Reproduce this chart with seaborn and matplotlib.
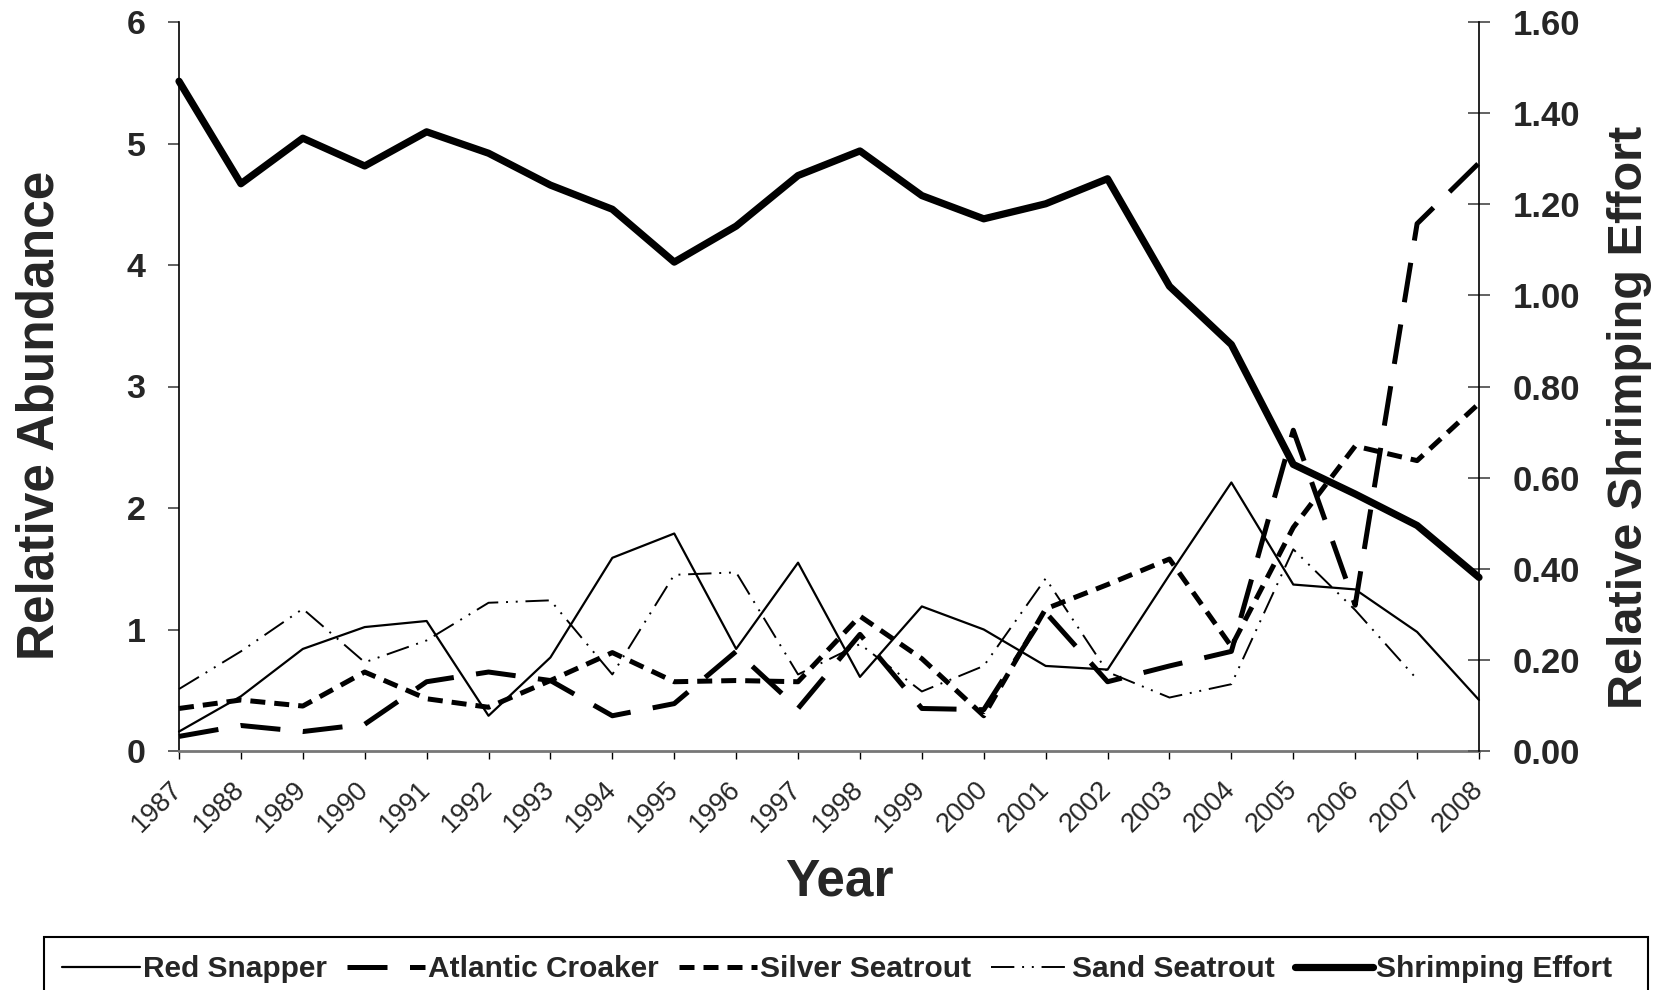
import matplotlib
matplotlib.use("Agg")
import matplotlib.pyplot as plt
import matplotlib.transforms as mtransforms
from matplotlib.patches import Rectangle
import seaborn as sns
import numpy as np

years = list(range(1987, 2009))
red_snapper = [0.16, 0.45, 0.84, 1.02, 1.07, 0.29, 0.77, 1.59, 1.79, 0.84, 1.55,
               0.61, 1.19, 1.00, 0.70, 0.67, 1.45, 2.21, 1.37, 1.33, 0.98, 0.42]
atlantic_croaker = [0.12, 0.21, 0.16, 0.22, 0.57, 0.65, 0.58, 0.29, 0.39, 0.82, 0.35,
                    0.96, 0.35, 0.34, 1.14, 0.57, 0.70, 0.82, 2.64, 1.20, 4.34, 4.84]
silver_seatrout = [0.35, 0.42, 0.37, 0.65, 0.43, 0.36, 0.58, 0.81, 0.57, 0.58, 0.57,
                   1.11, 0.76, 0.29, 1.17, 1.37, 1.58, 0.86, 1.84, 2.51, 2.39, 2.86]
sand_years = list(range(1987, 2008))
sand_seatrout = [0.51, 0.82, 1.17, 0.73, 0.91, 1.22, 1.24, 0.63, 1.45, 1.47, 0.63,
                 0.88, 0.49, 0.70, 1.42, 0.65, 0.44, 0.55, 1.66, 1.16, 0.59]
shrimping_effort = [1.47, 1.245, 1.345, 1.284, 1.359, 1.312, 1.242, 1.189, 1.073, 1.152, 1.263,
                    1.317, 1.219, 1.168, 1.201, 1.256, 1.02, 0.892, 0.629, 0.564, 0.495, 0.381]
left_ticks = [0, 1, 2, 3, 4, 5, 6]
right_ticks = [0.0, 0.2, 0.4, 0.6, 0.8, 1.0, 1.2, 1.4, 1.6]

sns.set_style("white")
plt.rcParams['font.family'] = ['Liberation Sans', 'DejaVu Sans']

fig = plt.figure(figsize=(16.59, 9.90), dpi=100)
W, H = 1659, 990
L, R, T, B = 179, 1479, 22, 751
ax = fig.add_axes([L / W, 1 - B / H, (R - L) / W, (B - T) / H])
ax2 = ax.twinx()

sns.lineplot(x=years, y=red_snapper, ax=ax, color='black', lw=1.6,
             label='Red Snapper', clip_on=False)
sns.lineplot(x=years, y=atlantic_croaker, ax=ax, color='black', lw=3.6,
             linestyle=(0, (8, 4.5)), label='Atlantic Croaker', clip_on=False)
sns.lineplot(x=years, y=silver_seatrout, ax=ax, color='black', lw=3.6,
             linestyle=(0, (3, 1.8)), label='Silver Seatrout', clip_on=False)
sns.lineplot(x=sand_years, y=sand_seatrout, ax=ax, color='black', lw=1.4,
             linestyle=(0, (12, 4, 1, 4, 1, 4)), label='Sand Seatrout', clip_on=False)
sns.lineplot(x=years, y=shrimping_effort, ax=ax2, color='black', lw=5.2,
             label='Shrimping Effort', clip_on=False)

ax.set_xlim(1987, 2008)
ax.set_ylim(0, 6)
ax2.set_ylim(0, 1.6)
ax.set_xticks(years)
ax.set_xticklabels([str(y) for y in years], rotation=45, ha='right',
                   rotation_mode='anchor', va='center', fontsize=19.5)
offset = mtransforms.ScaledTranslation(3 / 100, 0, fig.dpi_scale_trans)
for lab in ax.get_xticklabels():
    lab.set_transform(lab.get_transform() + offset)
ax.set_yticks(left_ticks)
ax.set_yticklabels([str(v) for v in left_ticks], fontsize=24.5, fontweight='bold')
ax2.set_yticks(right_ticks)
ax2.set_yticklabels([f"{v:.2f}" for v in right_ticks], fontsize=25, fontweight='bold')

ax.tick_params(axis='x', direction='out', length=6, width=1, color='black', pad=19, bottom=True)
ax.tick_params(axis='y', direction='out', length=8, width=1.3, color='#555555', pad=16, left=True)
ax2.tick_params(axis='y', direction='inout', length=16, width=1.3, color='#555555', pad=16, right=True)

for a in (ax, ax2):
    a.spines['top'].set_visible(False)
ax.spines['right'].set_visible(False)
ax2.spines['left'].set_visible(False)
ax2.spines['bottom'].set_visible(False)
ax.spines['left'].set_color('black')
ax.spines['left'].set_linewidth(1.2)
ax2.spines['right'].set_color('black')
ax2.spines['right'].set_linewidth(1.2)
ax.spines['bottom'].set_color('#777777')
ax.spines['bottom'].set_linewidth(2)

ax.set_xlabel('Year', fontsize=37, fontweight='bold')
ax.xaxis.set_label_coords(0.5 + 10 / 1300, (B - 882) / 729)
ax.xaxis.label.set_va('center')
ax.set_ylabel('Relative Abundance', fontsize=37, fontweight='bold')
ax.yaxis.set_label_coords((40 - L) / 1300, 0.461)
ax.yaxis.label.set_va('center')
ax2.set_ylabel('Relative Shrimping Effort', fontsize=35, fontweight='bold', rotation=90)
ax2.yaxis.set_label_coords((1629 - L) / 1300, 0.458)
ax2.yaxis.label.set_va('center')

h1, l1 = ax.get_legend_handles_labels()
h2, l2 = ax2.get_legend_handles_labels()
for a in (ax, ax2):
    lg = a.get_legend()
    if lg is not None:
        lg.remove()

# legend frame (extends past the bottom edge, as in the reference)
fig.patches.append(Rectangle((44 / W, -0.05), 1604 / W, 0.05 + 1 - 937 / H,
                             transform=fig.transFigure, fill=False,
                             edgecolor='black', linewidth=1.5))
leg = fig.legend(h1 + h2, l1 + l2, loc='center left',
                 bbox_to_anchor=(62 / W, 1 - 969 / H, 1550 / W, 0),
                 mode='expand', ncol=5, frameon=False,
                 prop={'weight': 'bold', 'size': 21.5}, handlelength=2.6,
                 handletextpad=0.1, borderpad=0, borderaxespad=0,
                 columnspacing=0.5)

fig.savefig('out.png', dpi=100)
